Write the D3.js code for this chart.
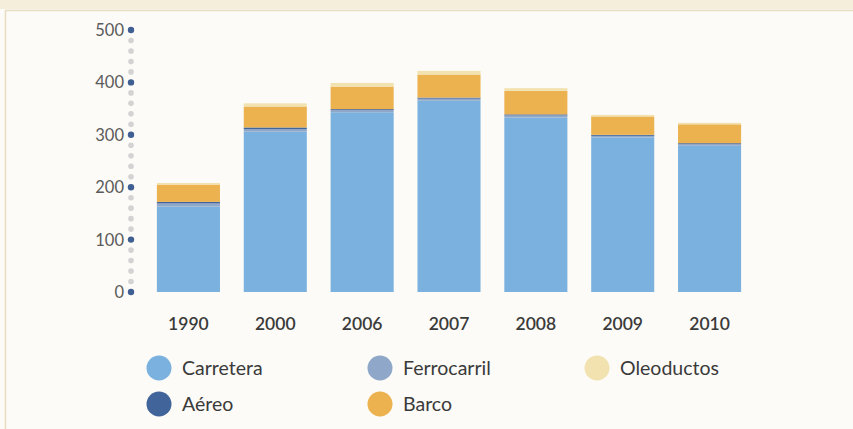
<!DOCTYPE html>
<html>
<head>
<meta charset="utf-8">
<script src="https://cdn.jsdelivr.net/npm/d3@7/dist/d3.min.js"></script>
<style>
  html, body { margin: 0; padding: 0; background: #fcfbf7; }
  svg { display: block; }
</style>
</head>
<body>
<svg id="chart" width="853" height="429"></svg>
<script>
// Years on the horizontal axis
const years = ["1990", "2000", "2006", "2007", "2008", "2009", "2010"];

// Stacked values per transport mode (bottom to top)
const carretera   = [163, 306, 343, 365, 333, 295, 279];
const ferrocarril = [6, 5, 4, 4, 4, 3, 3];
const aereo       = [3, 3, 2, 2, 2, 2, 2];
const barco       = [33, 40, 43, 44, 45, 35, 36];
const oleoductos  = [3, 6, 7, 7, 5, 3, 3];

// Axis tick labels
const yTicks = [0, 100, 200, 300, 400, 500];

const seriesKeys  = ["Carretera", "Ferrocarril", "Aéreo", "Barco", "Oleoductos"];
const seriesVals  = [carretera, ferrocarril, aereo, barco, oleoductos];
const colors = {
  "Carretera":   "#7ab1de",
  "Ferrocarril": "#8fa8c9",
  "Aéreo":       "#41649a",
  "Barco":       "#ebb24f",
  "Oleoductos":  "#f2e2b0"
};

const rows = years.map((y, i) => {
  const r = { year: y };
  seriesKeys.forEach((k, j) => { r[k] = seriesVals[j][i]; });
  return r;
});

const svg = d3.select("#chart");

// Frame of the figure box
svg.append("rect").attr("x", 0).attr("y", 0).attr("width", 853).attr("height", 9)
  .attr("fill", "#f4eedb");
svg.append("path")
  .attr("d", "M5.5,429 V10.5 H853")
  .attr("fill", "none").attr("stroke", "#e6dcc0").attr("stroke-width", 1.5);

const y = d3.scaleLinear().domain([0, 500]).range([292, 30]);
const x = d3.scaleBand().domain(years).range([145, 753])
  .paddingInner(0.274).paddingOuter(0.137);

// Dotted vertical axis
const axisX = 131;
const minor = y.ticks(25).filter(v => !yTicks.includes(v));
svg.append("g").selectAll("circle").data(minor).join("circle")
  .attr("cx", axisX).attr("cy", d => y(d)).attr("r", 2.8)
  .attr("fill", "#d3d3d3");
svg.append("g").selectAll("circle").data(yTicks).join("circle")
  .attr("cx", axisX).attr("cy", d => y(d)).attr("r", 3.2)
  .attr("fill", "#3f5f92");
svg.append("g").selectAll("text").data(yTicks).join("text")
  .attr("x", axisX - 7).attr("y", d => y(d)).attr("dy", "0.36em")
  .attr("text-anchor", "end")
  .attr("font-family", "Lato, 'Open Sans', sans-serif")
  .attr("font-size", 16.5).attr("fill", "#5a5a5a")
  .text(d => d);

// Stacked bars
const stack = d3.stack().keys(seriesKeys)(rows);
svg.append("g").selectAll("g").data(stack).join("g")
  .attr("fill", d => colors[d.key])
  .selectAll("rect").data(d => d).join("rect")
  .attr("x", d => x(d.data.year))
  .attr("width", x.bandwidth())
  .attr("y", d => y(d[1]))
  .attr("height", d => y(d[0]) - y(d[1]));

// Year labels
svg.append("g").selectAll("text").data(years).join("text")
  .attr("x", d => x(d) + x.bandwidth() / 2).attr("y", 324)
  .attr("dy", "0.36em").attr("text-anchor", "middle")
  .attr("font-family", "Lato, 'Open Sans', sans-serif")
  .attr("font-weight", 600)
  .attr("font-size", 17.5).attr("fill", "#3a3a3a")
  .text(d => d);

// Legend
const legendItems = [
  { key: "Carretera",   cx: 159, cy: 368 },
  { key: "Ferrocarril", cx: 380, cy: 368 },
  { key: "Oleoductos",  cx: 597, cy: 368 },
  { key: "Aéreo",       cx: 159, cy: 404 },
  { key: "Barco",       cx: 380, cy: 404 }
];
const lg = svg.append("g").selectAll("g").data(legendItems).join("g")
  .attr("transform", d => `translate(${d.cx},${d.cy})`);
lg.append("circle").attr("r", 12.5).attr("fill", d => colors[d.key]);
lg.append("text").attr("x", 23).attr("dy", "0.36em")
  .attr("font-family", "Lato, 'Open Sans', sans-serif")
  .attr("font-size", 19.5).attr("fill", "#3a3a3a")
  .text(d => d.key);
</script>
</body>
</html>
